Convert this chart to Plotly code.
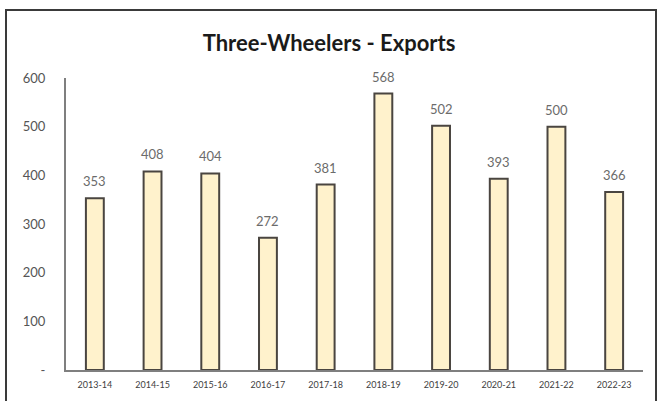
import plotly.graph_objects as go

years = ["2013-14", "2014-15", "2015-16", "2016-17", "2017-18",
         "2018-19", "2019-20", "2020-21", "2021-22", "2022-23"]
exports = [353, 408, 404, 272, 381, 568, 502, 393, 500, 366]
y_ticks = [0, 100, 200, 300, 400, 500, 600]
y_tick_text = ["-", "100", "200", "300", "400", "500", "600"]

W, H = 658, 401
L, R, T, B = 66, 15, 78, 31
pw, ph = W - L - R, H - T - B

def px_x(p):
    return (p - L) / pw

def px_y(p):
    return (H - B - p) / ph

fig = go.Figure()
fig.add_trace(go.Bar(
    x=years, y=exports,
    width=0.31,
    marker=dict(color="#FFF2CC", line=dict(color="#4A4540", width=2)),
    hoverinfo="skip",
))

for yr, v in zip(years, exports):
    fig.add_annotation(x=yr, y=v, text=str(v), showarrow=False,
                       yanchor="bottom", yshift=7,
                       font=dict(family="Lato", size=13, color="#6b6b6b"))

fig.add_shape(type="rect", xref="paper", yref="paper",
              x0=px_x(6), x1=px_x(656), y0=px_y(410), y1=px_y(10),
              line=dict(color="#3a3a3a", width=2), layer="below")

fig.update_layout(
    width=W, height=H,
    margin=dict(l=L, r=R, t=T, b=B),
    paper_bgcolor="white", plot_bgcolor="white",
    showlegend=False,
    title=dict(text="<b>Three-Wheelers - Exports</b>", x=0.5, xanchor="center",
               y=1 - 43 / H, yanchor="middle",
               font=dict(family="Lato", size=22, color="#1a1a1a")),
    xaxis=dict(type="category", range=[-0.5, 9.5],
               showline=True, linecolor="#7f7f7f", linewidth=2,
               showgrid=False, ticks="", ticklabelstandoff=5,
               tickfont=dict(family="Lato", size=9, color="#404040")),
    yaxis=dict(range=[0, 600], tickvals=y_ticks, ticktext=y_tick_text,
               showline=True, linecolor="#7f7f7f", linewidth=2,
               showgrid=False, zeroline=False, ticks="",
               ticklabelstandoff=16,
               tickfont=dict(family="Lato", size=13, color="#555555")),
)

fig.write_html("out.html")
